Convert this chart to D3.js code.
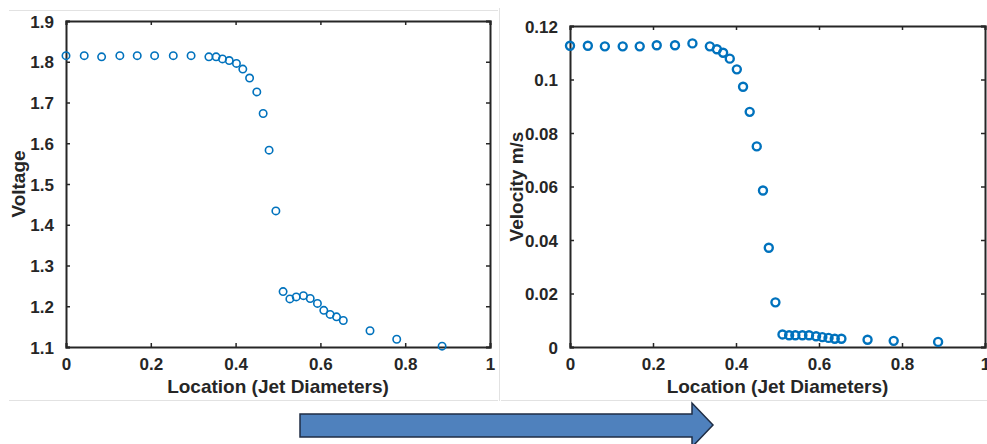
<!DOCTYPE html>
<html><head><meta charset="utf-8">
<script src="https://cdn.jsdelivr.net/npm/d3@7"></script>
<style>html,body{margin:0;padding:0;background:#fff;overflow:hidden}</style>
</head><body>
<svg id="c" width="987" height="444"></svg>
<script>
const location_ = [0, 0.043, 0.084, 0.127, 0.168, 0.209, 0.253, 0.295, 0.337, 0.354, 0.369, 0.385, 0.402, 0.417, 0.433, 0.450, 0.465, 0.479, 0.495, 0.512, 0.528, 0.543, 0.560, 0.576, 0.593, 0.608, 0.623, 0.638, 0.654, 0.717, 0.780, 0.887];
const voltage = [1.815, 1.815, 1.812, 1.815, 1.815, 1.815, 1.815, 1.815, 1.812, 1.812, 1.807, 1.803, 1.796, 1.782, 1.760, 1.726, 1.673, 1.583, 1.434, 1.236, 1.218, 1.223, 1.226, 1.219, 1.207, 1.190, 1.180, 1.174, 1.165, 1.140, 1.119, 1.102];
const velocity = [0.1126, 0.1126, 0.1124, 0.1124, 0.1124, 0.1128, 0.1128, 0.1135, 0.1124, 0.1113, 0.1100, 0.1078, 0.1038, 0.0973, 0.0879, 0.0750, 0.0585, 0.0371, 0.0167, 0.0047, 0.0044, 0.0044, 0.0044, 0.0044, 0.0040, 0.0037, 0.0034, 0.0031, 0.0031, 0.0027, 0.0023, 0.0019];
const xTicks = [0, 0.2, 0.4, 0.6, 0.8, 1];
const xTickLabels = ["0", "0.2", "0.4", "0.6", "0.8", "1"];
const voltageTicks = [1.1, 1.2, 1.3, 1.4, 1.5, 1.6, 1.7, 1.8, 1.9];
const voltageTickLabels = ["1.1", "1.2", "1.3", "1.4", "1.5", "1.6", "1.7", "1.8", "1.9"];
const velocityTicks = [0, 0.02, 0.04, 0.06, 0.08, 0.1, 0.12];
const velocityTickLabels = ["0", "0.02", "0.04", "0.06", "0.08", "0.1", "0.12"];
const xTitle = "Location (Jet Diameters)";

const svg = d3.select("#c");
const FONT = "'Liberation Sans', Arial, Helvetica, sans-serif";
const INK = "#262626";
const BLUE = "#0072BD";

// panel frame lines
const frame = "#e2e2e2";
svg.append("line").attr("x1", 9).attr("x2", 498).attr("y1", 10.5).attr("y2", 10.5).attr("stroke", frame);
svg.append("line").attr("x1", 499.5).attr("x2", 499.5).attr("y1", 8).attr("y2", 401).attr("stroke", frame);
svg.append("line").attr("x1", 9).attr("x2", 498).attr("y1", 400.5).attr("y2", 400.5).attr("stroke", frame);
svg.append("line").attr("x1", 501).attr("x2", 987).attr("y1", 400.5).attr("y2", 400.5).attr("stroke", frame);

function panel(opt) {
  const {x0, x1, y0, y1, yDomain, yTicks, yLabels, yValues, yTitle, yTitleX, r, sw} = opt;
  const x = d3.scaleLinear().domain([0, 1]).range([x0, x1]);
  const y = d3.scaleLinear().domain(yDomain).range([y1, y0]);
  const g = svg.append("g");
  const tickLen = 4;

  const axB = d3.axisBottom(x).tickValues(xTicks).tickFormat((d, i) => xTickLabels[i]).tickSize(-tickLen).tickPadding(10);
  const axT = d3.axisTop(x).tickValues(xTicks).tickFormat("").tickSize(-tickLen);
  const axL = d3.axisLeft(y).tickValues(yTicks).tickFormat((d, i) => yLabels[i]).tickSize(-tickLen).tickPadding(12);
  const axR = d3.axisRight(y).tickValues(yTicks).tickFormat("").tickSize(-tickLen);

  const gb = g.append("g").attr("transform", `translate(0,${y1})`).call(axB);
  const gt = g.append("g").attr("transform", `translate(0,${y0})`).call(axT);
  const gl = g.append("g").attr("transform", `translate(${x0},0)`).call(axL);
  const gr = g.append("g").attr("transform", `translate(${x1},0)`).call(axR);
  [gb, gt, gl, gr].forEach(a => {
    a.select(".domain").attr("stroke", INK).attr("stroke-width", 2);
    a.selectAll(".tick line").attr("stroke", INK).attr("stroke-width", 1.5);
    a.selectAll("text").attr("fill", INK).attr("font-family", FONT).attr("font-weight", "bold").attr("font-size", 17);
  });
  gl.selectAll("text").attr("dy", "0.36em");
  gb.selectAll("text").attr("dy", "0.75em");

  g.append("g").selectAll("circle").data(location_).join("circle")
    .attr("cx", d => x(d)).attr("cy", (d, i) => y(yValues[i]))
    .attr("r", r).attr("fill", "none").attr("stroke", BLUE).attr("stroke-width", sw);

  g.append("text").attr("x", (x0 + x1) / 2).attr("y", 393)
    .attr("text-anchor", "middle").attr("fill", INK)
    .attr("font-family", FONT).attr("font-weight", "bold").attr("font-size", 19).text(xTitle);
  g.append("text").attr("transform", `translate(${yTitleX},${(y0 + y1) / 2}) rotate(-90)`)
    .attr("text-anchor", "middle").attr("fill", INK)
    .attr("font-family", FONT).attr("font-weight", "bold").attr("font-size", 19).text(yTitle);
}

panel({x0: 66, x1: 490, y0: 21, y1: 347, yDomain: [1.1, 1.9], yTicks: voltageTicks, yLabels: voltageTickLabels,
  yValues: voltage, yTitle: "Voltage", yTitleX: 25, r: 3.7, sw: 1.6});
panel({x0: 570, x1: 985, y0: 26, y1: 347, yDomain: [0, 0.12], yTicks: velocityTicks, yLabels: velocityTickLabels,
  yValues: velocity, yTitle: "Velocity m/s", yTitleX: 523, r: 4, sw: 2.4});

// arrow
const arrowPts = [[300, 414], [692, 414], [692, 403], [713, 425], [692, 447], [692, 437], [300, 437]];
svg.append("path").attr("d", d3.line()(arrowPts) + "Z")
  .attr("fill", "#4f81bd").attr("stroke", "#1f2d44").attr("stroke-width", 1.5).attr("stroke-linejoin", "miter");
</script>
</body></html>
